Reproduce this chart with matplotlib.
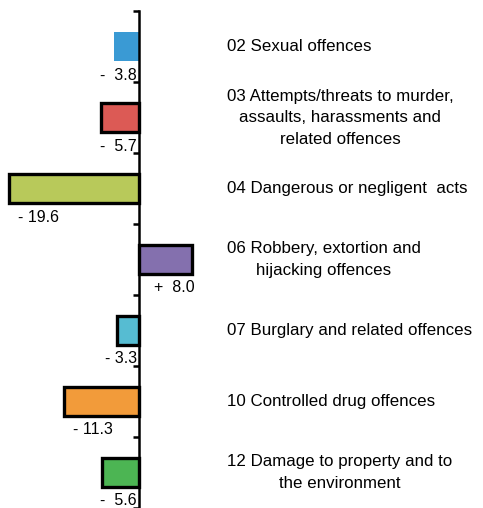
import matplotlib
matplotlib.use("Agg")
from matplotlib import pyplot as plt
import matplotlib.transforms as mtransforms

# Data
categories = [
    "02 Sexual offences",
    "03 Attempts/threats to murder,\nassaults, harassments and\nrelated offences",
    "04 Dangerous or negligent  acts",
    "06 Robbery, extortion and\nhijacking offences",
    "07 Burglary and related offences",
    "10 Controlled drug offences",
    "12 Damage to property and to\nthe environment",
]
values = [-3.8, -5.7, -19.6, 8.0, -3.3, -11.3, -5.6]
value_labels = ["-  3.8", "-  5.7", "- 19.6", "+  8.0", "- 3.3", "- 11.3", "-  5.6"]
colors = ["#3a9ad4", "#dc5a55", "#b8c95a", "#8470ae", "#56bcd2", "#f29b3a", "#4cb553"]

plt.rcParams["font.family"] = ["Liberation Sans", "DejaVu Sans"]

fig = plt.figure(figsize=(4.83, 5.08), dpi=100)
ax = fig.add_axes([0, 0, 1, 0.978])

for i, v in enumerate(values):
    lw = 0 if i == 0 else 2.4
    ax.barh(i, v, height=0.41, color=colors[i], edgecolor="black", linewidth=lw)

ax.set_xlim(-20.9, 51.7)
ax.set_ylim(len(values) - 0.5, -0.5)

# value labels under each bar
for i, v in enumerate(values):
    y = i + 0.40
    if v > 0:
        ax.text(v + 0.4, y, value_labels[i], ha="right", va="center", fontsize=11.5)
    elif abs(v) > 8:
        ax.text(v + 1.4, y, value_labels[i], ha="left", va="center", fontsize=11.5)
    else:
        ax.text(-0.3, y, value_labels[i], ha="right", va="center", fontsize=11.5)

# category labels on the right
trans = mtransforms.blended_transform_factory(ax.transAxes, ax.transData)
for i, c in enumerate(categories):
    ax.text(0.47, i, c, transform=trans, ha="left", va="center",
            fontsize=12.2, linespacing=1.55, multialignment="center")

for s in ["top", "right", "bottom"]:
    ax.spines[s].set_visible(False)
ax.spines["left"].set_position(("data", 0))
ax.spines["left"].set_linewidth(1.8)
ax.set_xticks([])
ax.set_yticks([i - 0.5 for i in range(len(values) + 1)])
ax.set_yticklabels([])
ax.tick_params(axis="y", direction="out", length=4, width=1.8)

fig.savefig("out.png", dpi=100)
